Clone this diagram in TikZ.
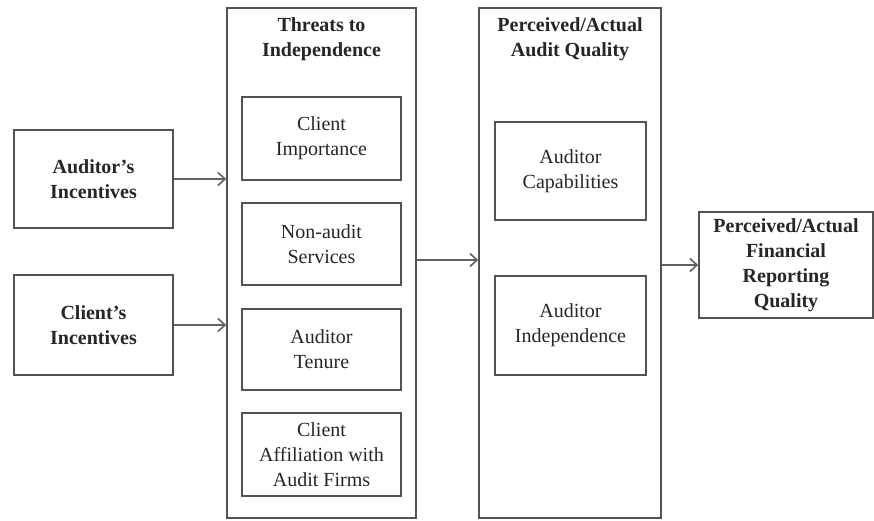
\documentclass[tikz,border=0pt]{standalone}
\usepackage{fontspec}
\setmainfont{Liberation Serif}
\usetikzlibrary{arrows.meta}
\begin{document}
\begin{tikzpicture}[x=1pt,y=-1pt,
  box/.style={draw=black!68,line width=1.7pt,inner sep=0pt,align=center,
    text=black!85,font=\fontsize{20}{25}\selectfont},
  boldbox/.style={box,font=\fontsize{20}{25}\selectfont\bfseries},
  title/.style={inner sep=0pt,align=center,text=black!85,font=\fontsize{20}{25}\selectfont\bfseries},
  arr/.style={draw=black!62,line width=1.8pt,-{Straight Barb[length=7pt,width=13pt,line width=1.6pt]}}]
\path[use as bounding box,fill=white] (0,0) rectangle (874,521);
% outer groups
\node[box,minimum width=189pt,minimum height=510pt] (thr) at (321.5,263) {};
\node[box,minimum width=182pt,minimum height=510pt] (paq) at (570,263) {};
\node[title] (thrt) at (321.5,39.5) {Threats to\\Independence};
\node[title] (paqt) at (570,39.5) {Perceived/Actual\\Audit Quality};
% left inputs
\node[boldbox,minimum width=159pt,minimum height=98pt] (aud) at (93.5,179) {Auditor's\\Incentives};
\node[boldbox,minimum width=159pt,minimum height=100pt] (cli) at (93.5,325) {Client's\\Incentives};
% threats
\node[box,minimum width=159pt,minimum height=83pt] (ci) at (321.5,138.5) {Client\\Importance};
\node[box,minimum width=159pt,minimum height=82pt] (nas) at (321.5,244) {Non-audit\\Services};
\node[box,minimum width=159pt,minimum height=81pt] (at) at (321.5,349.5) {Auditor\\Tenure};
\node[box,minimum width=159pt,minimum height=83pt] (caf) at (321.5,454.5) {Client\\Affiliation with\\Audit Firms};
% audit quality
\node[box,minimum width=151pt,minimum height=98pt] (cap) at (570.5,171) {Auditor\\Capabilities};
\node[box,minimum width=151pt,minimum height=99pt] (ind) at (570.5,325.5) {Auditor\\Independence};
% output
\node[boldbox,minimum width=174pt,minimum height=106pt] (fin) at (786,265) {Perceived/Actual\\Financial\\Reporting\\Quality};
% arrows
\draw[arr] (aud.east) -- (aud.east -| thr.west);
\draw[arr] (cli.east) -- (cli.east -| thr.west);
\draw[arr] ([yshift=3pt]thr.east) -- ([yshift=3pt]thr.east -| paq.west);
\draw[arr] (fin.west -| paq.east) -- (fin.west);
\end{tikzpicture}
\end{document}
